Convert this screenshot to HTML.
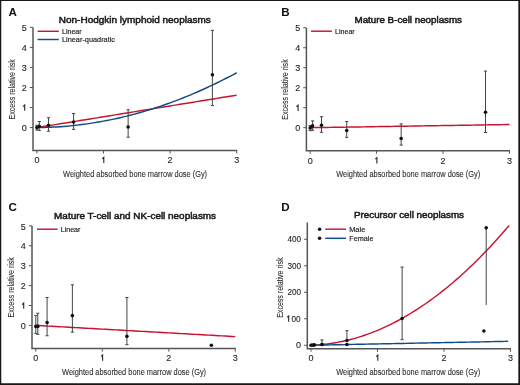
<!DOCTYPE html>
<html><head><meta charset="utf-8"><style>
html,body{margin:0;padding:0;background:#fff;}
body{width:520px;height:385px;overflow:hidden;}
svg{display:block;will-change:transform;font-family:"Liberation Sans",sans-serif;}
</style></head><body>
<svg width="520" height="385" viewBox="0 0 520 385">
<rect x="0" y="0" width="520" height="385" fill="#fff"/>
<text x="8.6" y="16.2" font-size="11.6" font-weight="bold" text-anchor="start" fill="#111" >A</text>
<text x="58.8" y="23.1" font-size="9.2" font-weight="normal" text-anchor="start" fill="#1a1a1a" textLength="152" lengthAdjust="spacingAndGlyphs" stroke="#1a1a1a" stroke-width="0.5">Non-Hodgkin lymphoid neoplasms</text>
<text x="0" y="0" font-size="9.3" fill="#2e2e2e" stroke="#2e2e2e" stroke-width="0.1" text-anchor="middle" textLength="60.3" lengthAdjust="spacingAndGlyphs" transform="translate(15.3,89.3) rotate(-90)">Excess relative risk</text>
<text x="63.1" y="177.0" font-size="8.3" font-weight="normal" text-anchor="start" fill="#2e2e2e" textLength="144" lengthAdjust="spacingAndGlyphs" stroke="#2e2e2e" stroke-width="0.1">Weighted absorbed bone marrow dose (Gy)</text>
<path d="M33.0 27.5V150.5H237.2" fill="none" stroke="#555555" stroke-width="1.5"/>
<path d="M29.8 127.60H33.0" stroke="#555555" stroke-width="1"/>
<text x="26.8" y="131.2" font-size="9" font-weight="normal" text-anchor="end" fill="#262626" stroke="#262626" stroke-width="0.12">0</text>
<path d="M29.8 107.55H33.0" stroke="#555555" stroke-width="1"/>
<path d="M23.10 106.60L24.70 105.10V110.85" fill="none" stroke="#262626" stroke-width="1.1" stroke-linejoin="miter"/>
<path d="M29.8 87.50H33.0" stroke="#555555" stroke-width="1"/>
<text x="26.8" y="91.1" font-size="9" font-weight="normal" text-anchor="end" fill="#262626" stroke="#262626" stroke-width="0.12">2</text>
<path d="M29.8 67.45H33.0" stroke="#555555" stroke-width="1"/>
<text x="26.8" y="71.04999999999998" font-size="9" font-weight="normal" text-anchor="end" fill="#262626" stroke="#262626" stroke-width="0.12">3</text>
<path d="M29.8 47.40H33.0" stroke="#555555" stroke-width="1"/>
<text x="26.8" y="50.99999999999999" font-size="9" font-weight="normal" text-anchor="end" fill="#262626" stroke="#262626" stroke-width="0.12">4</text>
<path d="M29.8 27.35H33.0" stroke="#555555" stroke-width="1"/>
<text x="26.8" y="30.949999999999996" font-size="9" font-weight="normal" text-anchor="end" fill="#262626" stroke="#262626" stroke-width="0.12">5</text>
<path d="M36.90 150.5V153.5" stroke="#555555" stroke-width="1"/>
<text x="36.9" y="163.4" font-size="9" font-weight="normal" text-anchor="middle" fill="#262626" stroke="#262626" stroke-width="0.12">0</text>
<path d="M103.50 150.5V153.5" stroke="#555555" stroke-width="1"/>
<path d="M102.20 158.85L103.80 157.35V163.10" fill="none" stroke="#262626" stroke-width="1.1" stroke-linejoin="miter"/>
<path d="M170.10 150.5V153.5" stroke="#555555" stroke-width="1"/>
<text x="170.1" y="163.4" font-size="9" font-weight="normal" text-anchor="middle" fill="#262626" stroke="#262626" stroke-width="0.12">2</text>
<path d="M236.70 150.5V153.5" stroke="#555555" stroke-width="1"/>
<text x="236.7" y="163.4" font-size="9" font-weight="normal" text-anchor="middle" fill="#262626" stroke="#262626" stroke-width="0.12">3</text>
<polyline points="36.90,127.60 40.23,127.06 43.56,126.52 46.89,125.98 50.22,125.43 53.55,124.89 56.88,124.35 60.21,123.81 63.54,123.27 66.87,122.73 70.20,122.19 73.53,121.65 76.86,121.10 80.19,120.56 83.52,120.02 86.85,119.48 90.18,118.94 93.51,118.40 96.84,117.86 100.17,117.31 103.50,116.77 106.83,116.23 110.16,115.69 113.49,115.15 116.82,114.61 120.15,114.07 123.48,113.52 126.81,112.98 130.14,112.44 133.47,111.90 136.80,111.36 140.13,110.82 143.46,110.28 146.79,109.74 150.12,109.19 153.45,108.65 156.78,108.11 160.11,107.57 163.44,107.03 166.77,106.49 170.10,105.95 173.43,105.40 176.76,104.86 180.09,104.32 183.42,103.78 186.75,103.24 190.08,102.70 193.41,102.16 196.74,101.62 200.07,101.07 203.40,100.53 206.73,99.99 210.06,99.45 213.39,98.91 216.72,98.37 220.05,97.83 223.38,97.28 226.71,96.74 230.04,96.20 233.37,95.66 236.70,95.12" fill="none" stroke="#c8142f" stroke-width="1.45"/>
<polyline points="36.90,127.60 40.23,127.56 43.56,127.49 46.89,127.39 50.22,127.26 53.55,127.09 56.88,126.91 60.21,126.69 63.54,126.44 66.87,126.16 70.20,125.85 73.53,125.51 76.86,125.15 80.19,124.75 83.52,124.32 86.85,123.87 90.18,123.38 93.51,122.87 96.84,122.32 100.17,121.75 103.50,121.14 106.83,120.51 110.16,119.85 113.49,119.16 116.82,118.43 120.15,117.68 123.48,116.90 126.81,116.09 130.14,115.25 133.47,114.38 136.80,113.48 140.13,112.55 143.46,111.59 146.79,110.60 150.12,109.59 153.45,108.54 156.78,107.46 160.11,106.36 163.44,105.22 166.77,104.05 170.10,102.86 173.43,101.63 176.76,100.38 180.09,99.10 183.42,97.78 186.75,96.44 190.08,95.07 193.41,93.66 196.74,92.23 200.07,90.77 203.40,89.28 206.73,87.76 210.06,86.21 213.39,84.63 216.72,83.02 220.05,81.38 223.38,79.71 226.71,78.01 230.04,76.29 233.37,74.53 236.70,72.74" fill="none" stroke="#0f4c86" stroke-width="1.45"/>
<path d="M36.90 130.01V125.19M35.30 130.01h3.2M35.30 125.19h3.2" stroke="#3c3c3c" stroke-width="0.95" fill="none"/>
<circle cx="36.90" cy="127.60" r="1.8" fill="#111111"/>
<path d="M39.30 130.41V121.58M37.70 130.41h3.2M37.70 121.58h3.2" stroke="#3c3c3c" stroke-width="0.95" fill="none"/>
<circle cx="39.30" cy="126.20" r="1.8" fill="#111111"/>
<path d="M48.49 131.21V117.78M46.89 131.21h3.2M46.89 117.78h3.2" stroke="#3c3c3c" stroke-width="0.95" fill="none"/>
<circle cx="48.49" cy="125.19" r="1.8" fill="#111111"/>
<path d="M73.60 129.40V113.56M72.00 129.40h3.2M72.00 113.56h3.2" stroke="#3c3c3c" stroke-width="0.95" fill="none"/>
<circle cx="73.60" cy="121.99" r="1.8" fill="#111111"/>
<path d="M128.14 137.22V109.76M126.54 137.22h3.2M126.54 109.76h3.2" stroke="#3c3c3c" stroke-width="0.95" fill="none"/>
<circle cx="128.14" cy="127.00" r="1.8" fill="#111111"/>
<path d="M212.39 105.54V30.36M210.79 105.54h3.2M210.79 30.36h3.2" stroke="#3c3c3c" stroke-width="0.95" fill="none"/>
<circle cx="212.39" cy="74.87" r="1.8" fill="#111111"/>
<path d="M37.6 31.3H58.8" stroke="#c8142f" stroke-width="1.45"/>
<text x="62.0" y="34.1" font-size="7.05" font-weight="normal" text-anchor="start" fill="#222" textLength="19.6" lengthAdjust="spacingAndGlyphs" stroke="#222" stroke-width="0.16">Linear</text>
<path d="M37.6 39.5H58.8" stroke="#0f4c86" stroke-width="1.45"/>
<text x="62.0" y="42.3" font-size="7.05" font-weight="normal" text-anchor="start" fill="#222" textLength="53" lengthAdjust="spacingAndGlyphs" stroke="#222" stroke-width="0.16">Linear-quadratic</text>
<text x="281.2" y="16.2" font-size="11.6" font-weight="bold" text-anchor="start" fill="#111" >B</text>
<text x="354.5" y="23.0" font-size="9.2" font-weight="normal" text-anchor="start" fill="#1a1a1a" textLength="107.5" lengthAdjust="spacingAndGlyphs" stroke="#1a1a1a" stroke-width="0.5">Mature B-cell neoplasms</text>
<text x="0" y="0" font-size="9.3" fill="#2e2e2e" stroke="#2e2e2e" stroke-width="0.1" text-anchor="middle" textLength="60.3" lengthAdjust="spacingAndGlyphs" transform="translate(288.2,89.5) rotate(-90)">Excess relative risk</text>
<text x="336.2" y="177.3" font-size="8.3" font-weight="normal" text-anchor="start" fill="#2e2e2e" textLength="144" lengthAdjust="spacingAndGlyphs" stroke="#2e2e2e" stroke-width="0.1">Weighted absorbed bone marrow dose (Gy)</text>
<path d="M306.4 27.9V150.8H509.9" fill="none" stroke="#555555" stroke-width="1.5"/>
<path d="M303.2 127.70H306.4" stroke="#555555" stroke-width="1"/>
<text x="300.2" y="131.3" font-size="9" font-weight="normal" text-anchor="end" fill="#262626" stroke="#262626" stroke-width="0.12">0</text>
<path d="M303.2 107.70H306.4" stroke="#555555" stroke-width="1"/>
<path d="M296.50 106.75L298.10 105.25V111.00" fill="none" stroke="#262626" stroke-width="1.1" stroke-linejoin="miter"/>
<path d="M303.2 87.70H306.4" stroke="#555555" stroke-width="1"/>
<text x="300.2" y="91.3" font-size="9" font-weight="normal" text-anchor="end" fill="#262626" stroke="#262626" stroke-width="0.12">2</text>
<path d="M303.2 67.70H306.4" stroke="#555555" stroke-width="1"/>
<text x="300.2" y="71.3" font-size="9" font-weight="normal" text-anchor="end" fill="#262626" stroke="#262626" stroke-width="0.12">3</text>
<path d="M303.2 47.70H306.4" stroke="#555555" stroke-width="1"/>
<text x="300.2" y="51.300000000000004" font-size="9" font-weight="normal" text-anchor="end" fill="#262626" stroke="#262626" stroke-width="0.12">4</text>
<path d="M303.2 27.70H306.4" stroke="#555555" stroke-width="1"/>
<text x="300.2" y="31.300000000000004" font-size="9" font-weight="normal" text-anchor="end" fill="#262626" stroke="#262626" stroke-width="0.12">5</text>
<path d="M310.20 150.8V153.8" stroke="#555555" stroke-width="1"/>
<text x="310.2" y="163.70000000000002" font-size="9" font-weight="normal" text-anchor="middle" fill="#262626" stroke="#262626" stroke-width="0.12">0</text>
<path d="M376.60 150.8V153.8" stroke="#555555" stroke-width="1"/>
<path d="M375.30 159.15L376.90 157.65V163.40" fill="none" stroke="#262626" stroke-width="1.1" stroke-linejoin="miter"/>
<path d="M443.00 150.8V153.8" stroke="#555555" stroke-width="1"/>
<text x="443.0" y="163.70000000000002" font-size="9" font-weight="normal" text-anchor="middle" fill="#262626" stroke="#262626" stroke-width="0.12">2</text>
<path d="M509.40 150.8V153.8" stroke="#555555" stroke-width="1"/>
<text x="509.4" y="163.70000000000002" font-size="9" font-weight="normal" text-anchor="middle" fill="#262626" stroke="#262626" stroke-width="0.12">3</text>
<polyline points="310.20,127.70 313.52,127.65 316.84,127.59 320.16,127.54 323.48,127.49 326.80,127.44 330.12,127.38 333.44,127.33 336.76,127.28 340.08,127.22 343.40,127.17 346.72,127.12 350.04,127.06 353.36,127.01 356.68,126.96 360.00,126.91 363.32,126.85 366.64,126.80 369.96,126.75 373.28,126.69 376.60,126.64 379.92,126.59 383.24,126.53 386.56,126.48 389.88,126.43 393.20,126.38 396.52,126.32 399.84,126.27 403.16,126.22 406.48,126.16 409.80,126.11 413.12,126.06 416.44,126.00 419.76,125.95 423.08,125.90 426.40,125.84 429.72,125.79 433.04,125.74 436.36,125.69 439.68,125.63 443.00,125.58 446.32,125.53 449.64,125.47 452.96,125.42 456.28,125.37 459.60,125.31 462.92,125.26 466.24,125.21 469.56,125.16 472.88,125.10 476.20,125.05 479.52,125.00 482.84,124.94 486.16,124.89 489.48,124.84 492.80,124.78 496.12,124.73 499.44,124.68 502.76,124.63 506.08,124.57 509.40,124.52" fill="none" stroke="#c8142f" stroke-width="1.45"/>
<path d="M310.20 130.70V125.50M308.60 130.70h3.2M308.60 125.50h3.2" stroke="#3c3c3c" stroke-width="0.95" fill="none"/>
<circle cx="310.20" cy="127.90" r="1.8" fill="#111111"/>
<path d="M312.59 130.30V120.90M310.99 130.30h3.2M310.99 120.90h3.2" stroke="#3c3c3c" stroke-width="0.95" fill="none"/>
<circle cx="312.59" cy="125.90" r="1.8" fill="#111111"/>
<path d="M321.49 132.30V116.70M319.89 132.30h3.2M319.89 116.70h3.2" stroke="#3c3c3c" stroke-width="0.95" fill="none"/>
<circle cx="321.49" cy="125.30" r="1.8" fill="#111111"/>
<path d="M346.72 137.40V121.50M345.12 137.40h3.2M345.12 121.50h3.2" stroke="#3c3c3c" stroke-width="0.95" fill="none"/>
<circle cx="346.72" cy="130.50" r="1.8" fill="#111111"/>
<path d="M401.17 145.10V123.90M399.57 145.10h3.2M399.57 123.90h3.2" stroke="#3c3c3c" stroke-width="0.95" fill="none"/>
<circle cx="401.17" cy="138.50" r="1.8" fill="#111111"/>
<path d="M485.50 132.50V71.10M483.90 132.50h3.2M483.90 71.10h3.2" stroke="#3c3c3c" stroke-width="0.95" fill="none"/>
<circle cx="485.50" cy="112.30" r="1.8" fill="#111111"/>
<path d="M311 31.2H331.9" stroke="#c8142f" stroke-width="1.45"/>
<text x="335.09999999999997" y="34.0" font-size="7.05" font-weight="normal" text-anchor="start" fill="#222" textLength="19.6" lengthAdjust="spacingAndGlyphs" stroke="#222" stroke-width="0.16">Linear</text>
<text x="8.4" y="211.4" font-size="11.6" font-weight="bold" text-anchor="start" fill="#111" >C</text>
<text x="54.1" y="218.5" font-size="9.2" font-weight="normal" text-anchor="start" fill="#1a1a1a" textLength="162" lengthAdjust="spacingAndGlyphs" stroke="#1a1a1a" stroke-width="0.5">Mature T-cell and NK-cell neoplasms</text>
<text x="0" y="0" font-size="9.3" fill="#2e2e2e" stroke="#2e2e2e" stroke-width="0.1" text-anchor="middle" textLength="60.3" lengthAdjust="spacingAndGlyphs" transform="translate(14.0,287.3) rotate(-90)">Excess relative risk</text>
<text x="62.1" y="375.0" font-size="8.3" font-weight="normal" text-anchor="start" fill="#2e2e2e" textLength="144" lengthAdjust="spacingAndGlyphs" stroke="#2e2e2e" stroke-width="0.1">Weighted absorbed bone marrow dose (Gy)</text>
<path d="M32.0 225.8V348.6H235.8" fill="none" stroke="#555555" stroke-width="1.5"/>
<path d="M28.8 325.40H32.0" stroke="#555555" stroke-width="1"/>
<text x="25.8" y="329.0" font-size="9" font-weight="normal" text-anchor="end" fill="#262626" stroke="#262626" stroke-width="0.12">0</text>
<path d="M28.8 305.50H32.0" stroke="#555555" stroke-width="1"/>
<path d="M22.10 304.55L23.70 303.05V308.80" fill="none" stroke="#262626" stroke-width="1.1" stroke-linejoin="miter"/>
<path d="M28.8 285.60H32.0" stroke="#555555" stroke-width="1"/>
<text x="25.8" y="289.2" font-size="9" font-weight="normal" text-anchor="end" fill="#262626" stroke="#262626" stroke-width="0.12">2</text>
<path d="M28.8 265.70H32.0" stroke="#555555" stroke-width="1"/>
<text x="25.8" y="269.3" font-size="9" font-weight="normal" text-anchor="end" fill="#262626" stroke="#262626" stroke-width="0.12">3</text>
<path d="M28.8 245.80H32.0" stroke="#555555" stroke-width="1"/>
<text x="25.8" y="249.39999999999998" font-size="9" font-weight="normal" text-anchor="end" fill="#262626" stroke="#262626" stroke-width="0.12">4</text>
<path d="M28.8 225.90H32.0" stroke="#555555" stroke-width="1"/>
<text x="25.8" y="229.49999999999997" font-size="9" font-weight="normal" text-anchor="end" fill="#262626" stroke="#262626" stroke-width="0.12">5</text>
<path d="M35.80 348.6V351.6" stroke="#555555" stroke-width="1"/>
<text x="35.8" y="361.0" font-size="9" font-weight="normal" text-anchor="middle" fill="#262626" stroke="#262626" stroke-width="0.12">0</text>
<path d="M102.30 348.6V351.6" stroke="#555555" stroke-width="1"/>
<path d="M101.00 356.45L102.60 354.95V360.70" fill="none" stroke="#262626" stroke-width="1.1" stroke-linejoin="miter"/>
<path d="M168.80 348.6V351.6" stroke="#555555" stroke-width="1"/>
<text x="168.8" y="361.0" font-size="9" font-weight="normal" text-anchor="middle" fill="#262626" stroke="#262626" stroke-width="0.12">2</text>
<path d="M235.30 348.6V351.6" stroke="#555555" stroke-width="1"/>
<text x="235.3" y="361.0" font-size="9" font-weight="normal" text-anchor="middle" fill="#262626" stroke="#262626" stroke-width="0.12">3</text>
<polyline points="35.80,325.40 39.12,325.59 42.45,325.77 45.77,325.96 49.10,326.15 52.42,326.34 55.75,326.52 59.07,326.71 62.40,326.90 65.72,327.08 69.05,327.27 72.38,327.46 75.70,327.64 79.03,327.83 82.35,328.02 85.67,328.21 89.00,328.39 92.32,328.58 95.65,328.77 98.97,328.95 102.30,329.14 105.62,329.33 108.95,329.52 112.27,329.70 115.60,329.89 118.92,330.08 122.25,330.26 125.58,330.45 128.90,330.64 132.22,330.82 135.55,331.01 138.88,331.20 142.20,331.39 145.52,331.57 148.85,331.76 152.18,331.95 155.50,332.13 158.82,332.32 162.15,332.51 165.47,332.70 168.80,332.88 172.12,333.07 175.45,333.26 178.77,333.44 182.10,333.63 185.43,333.82 188.75,334.00 192.07,334.19 195.40,334.38 198.73,334.57 202.05,334.75 205.38,334.94 208.70,335.13 212.02,335.31 215.35,335.50 218.68,335.69 222.00,335.88 225.32,336.06 228.65,336.25 231.98,336.44 235.30,336.62" fill="none" stroke="#c8142f" stroke-width="1.45"/>
<path d="M35.80 333.36V315.45M34.20 333.36h3.2M34.20 315.45h3.2" stroke="#3c3c3c" stroke-width="0.95" fill="none"/>
<circle cx="35.80" cy="326.39" r="1.8" fill="#111111"/>
<path d="M37.79 334.35V313.26M36.19 334.35h3.2M36.19 313.26h3.2" stroke="#3c3c3c" stroke-width="0.95" fill="none"/>
<circle cx="37.79" cy="326.39" r="1.8" fill="#111111"/>
<path d="M47.10 335.75V297.54M45.50 335.75h3.2M45.50 297.54h3.2" stroke="#3c3c3c" stroke-width="0.95" fill="none"/>
<circle cx="47.10" cy="322.61" r="1.8" fill="#111111"/>
<path d="M72.38 332.17V284.80M70.78 332.17h3.2M70.78 284.80h3.2" stroke="#3c3c3c" stroke-width="0.95" fill="none"/>
<circle cx="72.38" cy="315.65" r="1.8" fill="#111111"/>
<path d="M126.91 344.70V297.54M125.31 344.70h3.2M125.31 297.54h3.2" stroke="#3c3c3c" stroke-width="0.95" fill="none"/>
<circle cx="126.91" cy="336.34" r="1.8" fill="#111111"/>
<circle cx="211.36" cy="345.30" r="1.8" fill="#111111"/>
<path d="M37 229.2H57.6" stroke="#c8142f" stroke-width="1.45"/>
<text x="60.800000000000004" y="232.0" font-size="7.05" font-weight="normal" text-anchor="start" fill="#222" textLength="19.6" lengthAdjust="spacingAndGlyphs" stroke="#222" stroke-width="0.16">Linear</text>
<text x="281.2" y="211.4" font-size="11.6" font-weight="bold" text-anchor="start" fill="#111" >D</text>
<text x="354" y="218.2" font-size="9.2" font-weight="normal" text-anchor="start" fill="#1a1a1a" textLength="110" lengthAdjust="spacingAndGlyphs" stroke="#1a1a1a" stroke-width="0.5">Precursor cell neoplasms</text>
<text x="0" y="0" font-size="9.3" fill="#2e2e2e" stroke="#2e2e2e" stroke-width="0.1" text-anchor="middle" textLength="60.3" lengthAdjust="spacingAndGlyphs" transform="translate(283,287.7) rotate(-90)">Excess relative risk</text>
<text x="336.2" y="375.0" font-size="8.3" font-weight="normal" text-anchor="start" fill="#2e2e2e" textLength="144" lengthAdjust="spacingAndGlyphs" stroke="#2e2e2e" stroke-width="0.1">Weighted absorbed bone marrow dose (Gy)</text>
<path d="M307.3 222.5V348.8H511.0" fill="none" stroke="#555555" stroke-width="1.5"/>
<path d="M304.1 345.25H307.3" stroke="#555555" stroke-width="1"/>
<text x="301.1" y="348.45" font-size="9" font-weight="normal" text-anchor="end" fill="#262626" stroke="#262626" stroke-width="0.12">0</text>
<path d="M304.1 318.75H307.3" stroke="#555555" stroke-width="1"/>
<text x="300.5" y="321.95" font-size="9" font-weight="normal" text-anchor="end" fill="#262626" textLength="9.1" lengthAdjust="spacingAndGlyphs" stroke="#262626" stroke-width="0.12">00</text>
<path d="M287.10 317.40L288.70 315.90V321.65" fill="none" stroke="#262626" stroke-width="1.1" stroke-linejoin="miter"/>
<path d="M304.1 292.25H307.3" stroke="#555555" stroke-width="1"/>
<text x="301.1" y="295.45" font-size="9" font-weight="normal" text-anchor="end" fill="#262626" textLength="13.649999999999999" lengthAdjust="spacingAndGlyphs" stroke="#262626" stroke-width="0.12">200</text>
<path d="M304.1 265.75H307.3" stroke="#555555" stroke-width="1"/>
<text x="301.1" y="268.95" font-size="9" font-weight="normal" text-anchor="end" fill="#262626" textLength="13.649999999999999" lengthAdjust="spacingAndGlyphs" stroke="#262626" stroke-width="0.12">300</text>
<path d="M304.1 239.25H307.3" stroke="#555555" stroke-width="1"/>
<text x="301.1" y="242.45" font-size="9" font-weight="normal" text-anchor="end" fill="#262626" textLength="13.649999999999999" lengthAdjust="spacingAndGlyphs" stroke="#262626" stroke-width="0.12">400</text>
<path d="M311.00 348.8V351.8" stroke="#555555" stroke-width="1"/>
<text x="311.0" y="361.09999999999997" font-size="9" font-weight="normal" text-anchor="middle" fill="#262626" stroke="#262626" stroke-width="0.12">0</text>
<path d="M377.50 348.8V351.8" stroke="#555555" stroke-width="1"/>
<path d="M376.20 356.55L377.80 355.05V360.80" fill="none" stroke="#262626" stroke-width="1.1" stroke-linejoin="miter"/>
<path d="M444.00 348.8V351.8" stroke="#555555" stroke-width="1"/>
<text x="444.0" y="361.09999999999997" font-size="9" font-weight="normal" text-anchor="middle" fill="#262626" stroke="#262626" stroke-width="0.12">2</text>
<path d="M510.50 348.8V351.8" stroke="#555555" stroke-width="1"/>
<text x="510.5" y="361.09999999999997" font-size="9" font-weight="normal" text-anchor="middle" fill="#262626" stroke="#262626" stroke-width="0.12">3</text>
<polyline points="311.00,345.25 314.30,345.12 317.61,344.92 320.91,344.66 324.21,344.33 327.51,343.95 330.82,343.50 334.12,342.98 337.42,342.41 340.73,341.77 344.03,341.07 347.33,340.30 350.63,339.47 353.94,338.58 357.24,337.62 360.54,336.61 363.85,335.52 367.15,334.38 370.45,333.17 373.75,331.90 377.06,330.57 380.36,329.17 383.66,327.71 386.97,326.19 390.27,324.60 393.57,322.95 396.87,321.24 400.18,319.46 403.48,317.62 406.78,315.72 410.08,313.75 413.39,311.73 416.69,309.63 419.99,307.48 423.30,305.26 426.60,302.98 429.90,300.63 433.20,298.23 436.51,295.76 439.81,293.22 443.11,290.63 446.42,287.97 449.72,285.24 453.02,282.46 456.32,279.61 459.63,276.69 462.93,273.72 466.23,270.68 469.54,267.58 472.84,264.41 476.14,261.18 479.44,257.89 482.75,254.54 486.05,251.12 489.35,247.64 492.66,244.09 495.96,240.49 499.26,236.82 502.56,233.08 505.87,229.29 509.17,225.43" fill="none" stroke="#c8142f" stroke-width="1.45"/>
<polyline points="311.00,345.25 314.29,345.18 317.57,345.12 320.86,345.05 324.14,344.99 327.43,344.92 330.72,344.86 334.00,344.79 337.29,344.73 340.58,344.66 343.86,344.60 347.15,344.53 350.43,344.46 353.72,344.40 357.01,344.33 360.29,344.27 363.58,344.20 366.87,344.14 370.15,344.07 373.44,344.01 376.72,343.94 380.01,343.87 383.30,343.81 386.58,343.74 389.87,343.68 393.16,343.61 396.44,343.55 399.73,343.48 403.01,343.42 406.30,343.35 409.59,343.29 412.87,343.22 416.16,343.15 419.44,343.09 422.73,343.02 426.02,342.96 429.30,342.89 432.59,342.83 435.88,342.76 439.16,342.70 442.45,342.63 445.73,342.57 449.02,342.50 452.31,342.43 455.59,342.37 458.88,342.30 462.17,342.24 465.45,342.17 468.74,342.11 472.02,342.04 475.31,341.98 478.60,341.91 481.88,341.85 485.17,341.78 488.46,341.71 491.74,341.65 495.03,341.58 498.31,341.52 501.60,341.45 504.89,341.39 508.17,341.32" fill="none" stroke="#0f4c86" stroke-width="1.45"/>
<circle cx="311.00" cy="345.25" r="1.8" fill="#111111"/>
<circle cx="312.33" cy="344.99" r="1.8" fill="#111111"/>
<circle cx="313.99" cy="345.25" r="1.8" fill="#111111"/>
<circle cx="314.32" cy="344.72" r="1.8" fill="#111111"/>
<circle cx="321.97" cy="344.45" r="1.8" fill="#111111"/>
<path d="M321.97 344.45V339.95M320.37 344.45h3.2M320.37 339.95h3.2" stroke="#3c3c3c" stroke-width="0.95" fill="none"/>
<circle cx="321.97" cy="344.45" r="1.8" fill="#111111"/>
<path d="M346.91 340.48V330.68M345.31 340.48h3.2M345.31 330.68h3.2" stroke="#3c3c3c" stroke-width="0.95" fill="none"/>
<circle cx="346.91" cy="340.48" r="1.8" fill="#111111"/>
<circle cx="346.91" cy="344.45" r="1.8" fill="#111111"/>
<path d="M402.11 339.69V267.07M400.50 339.69h3.2M400.50 267.07h3.2" stroke="#3c3c3c" stroke-width="0.95" fill="none"/>
<circle cx="402.11" cy="318.49" r="1.8" fill="#111111"/>
<path d="M486.23 304.97V227.85" stroke="#3c3c3c" stroke-width="0.95" fill="none"/>
<circle cx="486.23" cy="227.85" r="1.8" fill="#111111"/>
<circle cx="483.90" cy="330.94" r="1.8" fill="#111111"/>
<circle cx="319.6" cy="229.2" r="1.75" fill="#111111"/>
<path d="M325.2 229.2H346" stroke="#c8142f" stroke-width="1.45"/>
<text x="349.2" y="232.0" font-size="7.05" font-weight="normal" text-anchor="start" fill="#222" textLength="16.1" lengthAdjust="spacingAndGlyphs" stroke="#222" stroke-width="0.16">Male</text>
<circle cx="319.6" cy="238.3" r="1.75" fill="#111111"/>
<path d="M325.2 238.3H346" stroke="#0f4c86" stroke-width="1.45"/>
<text x="349.2" y="241.10000000000002" font-size="7.05" font-weight="normal" text-anchor="start" fill="#222" textLength="24.3" lengthAdjust="spacingAndGlyphs" stroke="#222" stroke-width="0.16">Female</text>
<path d="M0 0H520V1.1H0Z M0 0H1.25V385H0Z M518.35 0H520V385H518.35Z M0 383.35H520V385H0Z" fill="#1a1616"/>
</svg>
</body></html>
